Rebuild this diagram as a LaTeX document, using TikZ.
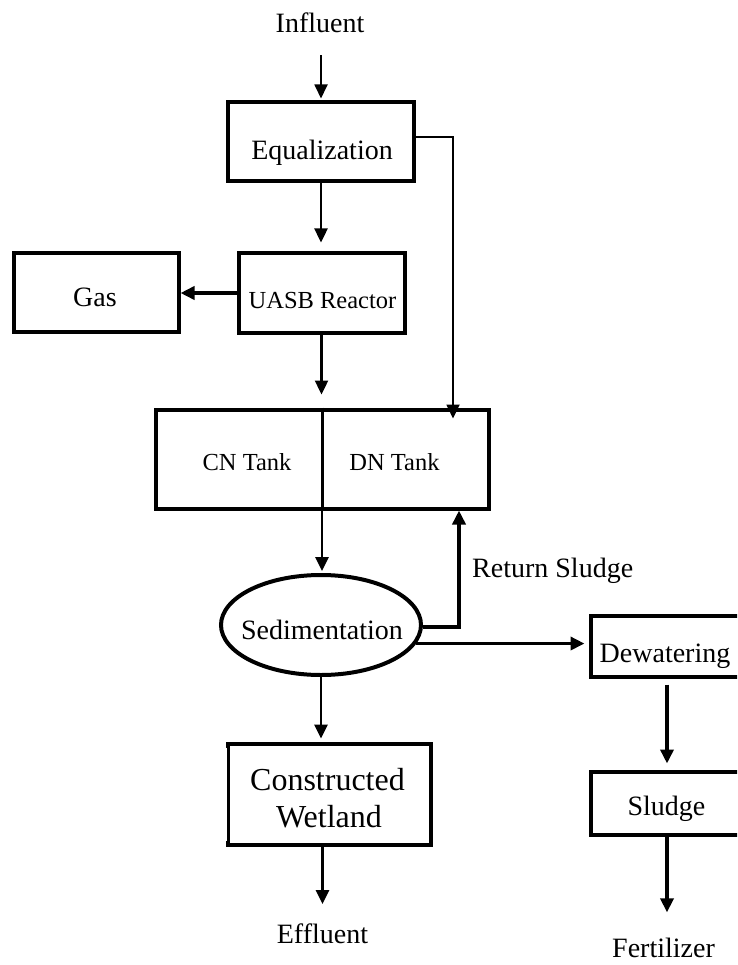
\documentclass[tikz,border=0pt]{standalone}
\usepackage{fontspec}
\setmainfont{Liberation Serif}
\usetikzlibrary{arrows.meta,shapes.geometric}
\begin{document}
\begin{tikzpicture}[x=1pt,y=-1pt,
  box/.style={draw, line width=4pt, inner sep=0pt, rectangle},
  lbl/.style={inner sep=0pt, font=\fontsize{28pt}{32pt}\selectfont, anchor=base},
  slbl/.style={inner sep=0pt, font=\fontsize{24.5pt}{28pt}\selectfont, anchor=base},
  blbl/.style={inner sep=0pt, font=\fontsize{32pt}{37pt}\selectfont, anchor=base},
  arr/.style={-{Triangle[length=14pt,width=13pt]}, line width=#1},
  arr/.default=2.5pt]
\useasboundingbox (0,0) rectangle (737,965);
\clip (0,0) rectangle (737,965);
% boxes
\node[box, minimum width=186pt, minimum height=79pt] (eq) at (321,142) {};
\node[box, minimum width=166pt, minimum height=79pt] (uasb) at (321.5,293) {};
\node[box, minimum width=165pt, minimum height=78pt] (gas) at (96,292.5) {};
\node[box, minimum width=333pt, minimum height=99pt] (tank) at (322,459) {};
\draw[line width=3pt] (tank.north) -- (tank.south);
\node[draw, ellipse, line width=4pt, minimum width=200pt, minimum height=100pt, inner sep=0pt] (sed) at (321,625) {};
\node[box, minimum width=170pt, minimum height=61pt] (dew) at (675.5,646) {};
\node[box, minimum width=170pt, minimum height=63pt] (sl) at (675.5,803) {};
\node[box, minimum width=203pt, minimum height=101pt] (cw) at (329,794) {};
\draw[white, line width=0.7pt] ([xshift=0.6pt,yshift=-6pt]cw.north west) -- ([xshift=0.6pt,yshift=6pt]cw.south west);
% texts
\node[lbl] (infl) at (320,33) {Influent};
\node[lbl] (eqt) at (322,160) {Equalization};
\node[slbl] (uasbt) at (322.5,308) {UASB Reactor};
\node[lbl] (gast) at (95,306) {Gas};
\node[slbl] (cnt) at (247,470) {CN Tank};
\node[slbl] (dnt) at (394.5,470) {DN Tank};
\node[lbl] (sedt) at (322,639) {Sedimentation};
\node[lbl, anchor=base west] (ret) at (472,577) {Return Sludge};
\node[lbl] (dewt) at (665,662) {Dewatering};
\node[lbl] (slt) at (666.5,815) {Sludge};
\node[lbl] (fert) at (663.5,957) {Fertilizer};
\node[blbl] (cwt1) at (327.5,790) {Constructed};
\node[blbl] (cwt2) at (329,827) {Wetland};
\node[lbl] (eff) at (322.5,943) {Effluent};
% connectors
\coordinate (eqc) at (453,137);
\coordinate (retc) at (459,627);
\draw[arr=1.8pt, shorten <=22pt, shorten >=2pt] (eq.north |- infl.south) -- (eq.north);
\draw[arr=2.4pt, shorten >=9pt] (eq.south) -- (eq.south |- uasb.north);
\draw[arr=3.8pt] (uasb.west) -- (uasb.west -| gas.east);
\draw[arr=2.4pt, shorten >=13pt] (uasb.south) -- (uasb.south |- tank.north);
\draw[arr=1.8pt] ([yshift=5pt]eq.east) -- (eqc) -- ([yshift=-11pt]eqc |- tank.north);
\draw[arr=2.6pt, shorten >=2pt] (tank.south) -- (tank.south |- sed.north);
\draw[arr=3.8pt] ([yshift=-2pt]sed.east) -- (retc) -- (retc |- tank.south);
\draw[arr=3.8pt, shorten >=4pt] (sed.-11) -- (sed.-11 -| dew.west);
\draw[arr=3.8pt, shorten <=6pt, shorten >=6pt] ([xshift=-8.5pt]dew.south) -- ([xshift=-8.5pt]sl.north);
\draw[arr=3.8pt, shorten >=25pt] ([xshift=-8.5pt]sl.south) -- ([xshift=-8.5pt]sl.south |- fert.north);
\draw[arr=2.6pt, shorten >=3pt] (sed.south) -- (sed.south |- cw.north);
\draw[arr=2.6pt, shorten >=19pt] (eff.north |- cw.south) -- (eff.north);
\end{tikzpicture}
\end{document}
